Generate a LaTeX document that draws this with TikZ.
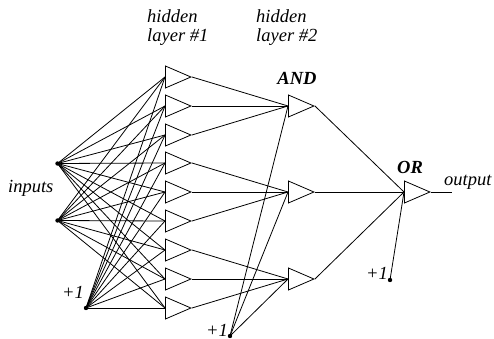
\documentclass[tikz,border=0pt]{standalone}
\usepackage{fontspec}
\setmainfont{Liberation Serif}
\usetikzlibrary{shapes.geometric, positioning}

\begin{document}
\begin{tikzpicture}[
    x=1pt, y=-1pt,
    every node/.style={align=left},
    unit/.style={draw, isosceles triangle, isosceles triangle stretches, shape border rotate=0,
        minimum width=22pt, minimum height=25.5pt, inner sep=0pt, anchor=lower side},
    dot/.style={circle, fill=black, inner sep=0pt, minimum size=4.4pt},
    lbl/.style={font=\fontsize{18.5}{19}\selectfont\itshape, inner sep=0pt, anchor=base west},
    gate/.style={font=\fontsize{18.5}{19}\selectfont\itshape\bfseries, inner sep=0pt, anchor=base},
    wire/.style={line width=0.8pt}
]
    \useasboundingbox (0,0) rectangle (494,339);

    % Inputs
    \node[dot] (in1) at (57.5,163.5) {};
    \node[dot] (in2) at (57.5,220.5) {};
    \node[dot] (bias1) at (86,308) {};
    \node[dot] (bias2) at (230,336) {};
    \node[dot] (bias3) at (390,280) {};

    % Hidden layer 1
    \foreach \i/\y in {1/77, 2/106, 3/135, 4/163, 5/192, 6/221, 7/250, 8/279, 9/308} {
        \node[unit, wire] (hida\i) at (165,\y) {};
    }

    % Hidden layer 2
    \node[unit, wire] (anda) at (288,106) {};
    \node[unit, wire] (andb) at (288,192) {};
    \node[unit, wire] (andc) at (288,279) {};

    % Output
    \node[unit, wire] (orgate) at (404,192) {};
    \coordinate (outend) at (452,192);

    % Connections
    \foreach \i in {1,...,9} {
        \draw[wire] (in1.center) -- (hida\i.lower side);
        \draw[wire] (in2.center) -- (hida\i.lower side);
        \draw[wire] (bias1.center) -- (hida\i.lower side);
    }
    \foreach \i/\j in {hida1/anda, hida2/anda, hida3/anda, hida4/andb, hida5/andb, hida6/andb, hida7/andc, hida8/andc, hida9/andc} {
        \draw[wire] (\i.apex) -- (\j.lower side);
    }
    \foreach \j in {anda, andb, andc} {
        \draw[wire] (bias2.center) -- (\j.lower side);
        \draw[wire] (\j.apex) -- (orgate.lower side);
    }
    \draw[wire] (bias3.center) -- (orgate.lower side);
    \draw[wire] (orgate.apex) -- (outend);

    % Labels
    \node[lbl] (hiddena) at (147,23) {hidden};
    \node[lbl] (layera) at (147,42) {layer \#1};
    \node[lbl] (hiddenb) at (256,23) {hidden};
    \node[lbl] (layerb) at (256,42) {layer \#2};
    \node[gate] (andlabel) at (297,85) {AND};
    \node[gate] (orlabel) at (410,173) {OR};
    \node[lbl] (inputs) at (8,192) {inputs};
    \node[lbl] (output) at (444,185) {output};
    \node[lbl] (plusa) at (62,298) {+1};
    \node[lbl] (plusb) at (206,336) {+1};
    \node[lbl] (plusc) at (366,279) {+1};
\end{tikzpicture}
\end{document}
